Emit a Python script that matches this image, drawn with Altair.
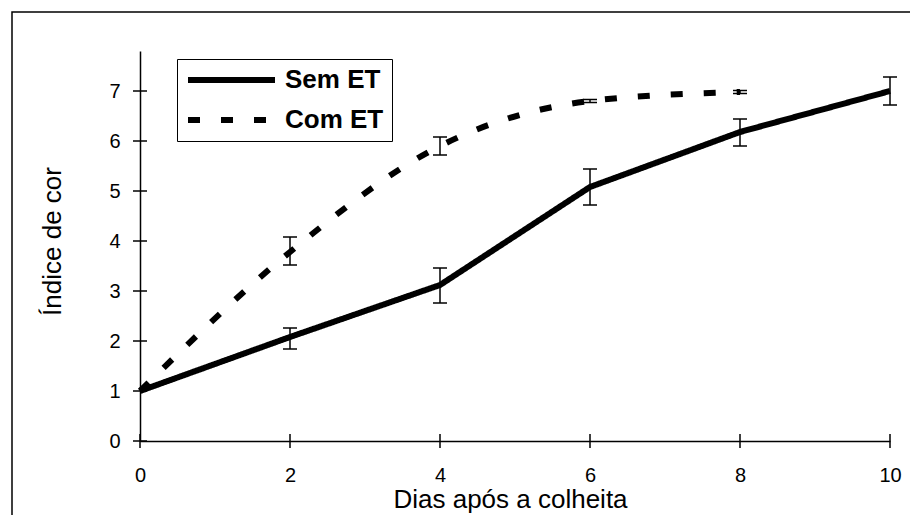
import altair as alt
import pandas as pd

# ---- data ----
days = [0, 2, 4, 6, 8, 10]
sem_et = [1.0, 2.08, 3.12, 5.08, 6.18, 7.0]
sem_lo = [None, 1.84, 2.76, 4.72, 5.90, 6.72]
sem_hi = [None, 2.26, 3.46, 5.44, 6.44, 7.28]

days_com = [0, 2, 4, 6, 8]
com_et = [1.0, 3.78, 5.90, 6.80, 6.98]
com_lo = [None, 3.52, 5.72, 6.77, 6.95]
com_hi = [None, 4.08, 6.08, 6.83, 7.01]

series_names = ["Sem ET", "Com ET"]
x_ticks = [0, 2, 4, 6, 8, 10]
y_ticks = [0, 1, 2, 3, 4, 5, 6, 7]

rows = []
for d, v, lo, hi in zip(days, sem_et, sem_lo, sem_hi):
    rows.append({"dia": d, "indice": v, "lo": lo, "hi": hi, "serie": "Sem ET"})
for d, v, lo, hi in zip(days_com, com_et, com_lo, com_hi):
    rows.append({"dia": d, "indice": v, "lo": lo, "hi": hi, "serie": "Com ET"})
df = pd.DataFrame(rows)
err = df.dropna(subset=["lo"])

FONT = "Liberation Sans"
W, H = 750, 390

xs = alt.Scale(domain=[0, 10], nice=False, zero=False)
ys = alt.Scale(domain=[0, 7.8], nice=False, zero=False)

x_axis = alt.Axis(values=x_ticks, format="d", ticks=False, grid=False, domainColor="black",
                  domainWidth=1.5, labelFont=FONT, labelFontSize=20, labelColor="black",
                  labelPadding=24, labelFlush=False, title="Dias após a colheita",
                  titleFont=FONT, titleFontSize=26, titleFontWeight="normal",
                  titleColor="black", titleX=370, titleY=58, titleBaseline="middle",
                  titleAlign="center")
y_axis = alt.Axis(values=y_ticks, format="d", ticks=False, grid=False, domainColor="black",
                  domainWidth=1.5, labelFont=FONT, labelFontSize=20, labelColor="black",
                  labelPadding=20, labelFlush=False, title="Índice de cor", titleFont=FONT,
                  titleFontSize=26, titleFontWeight="normal", titleColor="black",
                  titleX=-88, titleY=190, titleBaseline="middle", titleAlign="center",
                  titleAngle=-90)

dash_scale = alt.Scale(domain=series_names, range=[[1, 0], [12, 21]])

sem_line = alt.Chart(df[df.serie == "Sem ET"]).mark_line(
    color="black", strokeWidth=6, strokeCap="butt", strokeJoin="miter"
).encode(
    x=alt.X("dia:Q", scale=xs, axis=x_axis),
    y=alt.Y("indice:Q", scale=ys, axis=y_axis),
    strokeDash=alt.StrokeDash("serie:N", scale=dash_scale, legend=alt.Legend(
        title=None, orient="none", legendX=37, legendY=8,
        symbolType="M-1,0H7.7", symbolSize=400, symbolStrokeWidth=6,
        symbolStrokeColor="black", symbolFillColor="transparent",
        labelFont=FONT, labelFontSize=26, labelFontWeight="bold", labelColor="black",
        labelOffset=74, rowPadding=14, padding=8, strokeColor="black",
        fillColor="white", labelLimit=300)),
)

com_line = alt.Chart(df[df.serie == "Com ET"]).mark_line(
    color="black", strokeWidth=6, strokeCap="butt", interpolate="monotone"
).encode(
    x=alt.X("dia:Q", scale=xs),
    y=alt.Y("indice:Q", scale=ys),
    strokeDash=alt.StrokeDash("serie:N", scale=dash_scale),
)

err_rule = alt.Chart(err).mark_rule(color="black", strokeWidth=1.5).encode(
    x=alt.X("dia:Q", scale=xs), y=alt.Y("lo:Q", scale=ys), y2="hi:Q")
err_lo = alt.Chart(err).mark_tick(color="black", orient="horizontal", size=14,
                                  thickness=1.5, opacity=1).encode(
    x=alt.X("dia:Q", scale=xs), y=alt.Y("lo:Q", scale=ys))
err_hi = alt.Chart(err).mark_tick(color="black", orient="horizontal", size=14,
                                  thickness=1.5, opacity=1).encode(
    x=alt.X("dia:Q", scale=xs), y=alt.Y("hi:Q", scale=ys))

xt = pd.DataFrame({"v": x_ticks, "z": [0] * len(x_ticks)})
yt = pd.DataFrame({"v": y_ticks, "z": [0] * len(y_ticks)})
x_tick_marks = alt.Chart(xt).mark_tick(color="black", orient="vertical", size=14,
                                       thickness=1.5, opacity=1).encode(
    x=alt.X("v:Q", scale=xs), y=alt.Y("z:Q", scale=ys))
y_tick_marks = alt.Chart(yt).mark_tick(color="black", orient="horizontal", size=14,
                                       thickness=1.5, opacity=1).encode(
    x=alt.X("z:Q", scale=xs), y=alt.Y("v:Q", scale=ys))

border = alt.Chart(pd.DataFrame({"a": [0]})).mark_rect(
    fill=None, stroke="black", strokeWidth=1.5, clip=False
).encode(x=alt.value(-128), x2=alt.value(820), y=alt.value(-39), y2=alt.value(520))

chart = alt.layer(
    border, sem_line, com_line, err_rule, err_lo, err_hi, x_tick_marks, y_tick_marks
).properties(
    width=W, height=H,
    padding={"left": 140, "top": 51, "right": 20, "bottom": 74},
    autosize=alt.AutoSizeParams(type="none"),
    background="white",
).configure_view(stroke=None)

chart.save("out.html", embed_options={"renderer": "svg", "actions": False})
